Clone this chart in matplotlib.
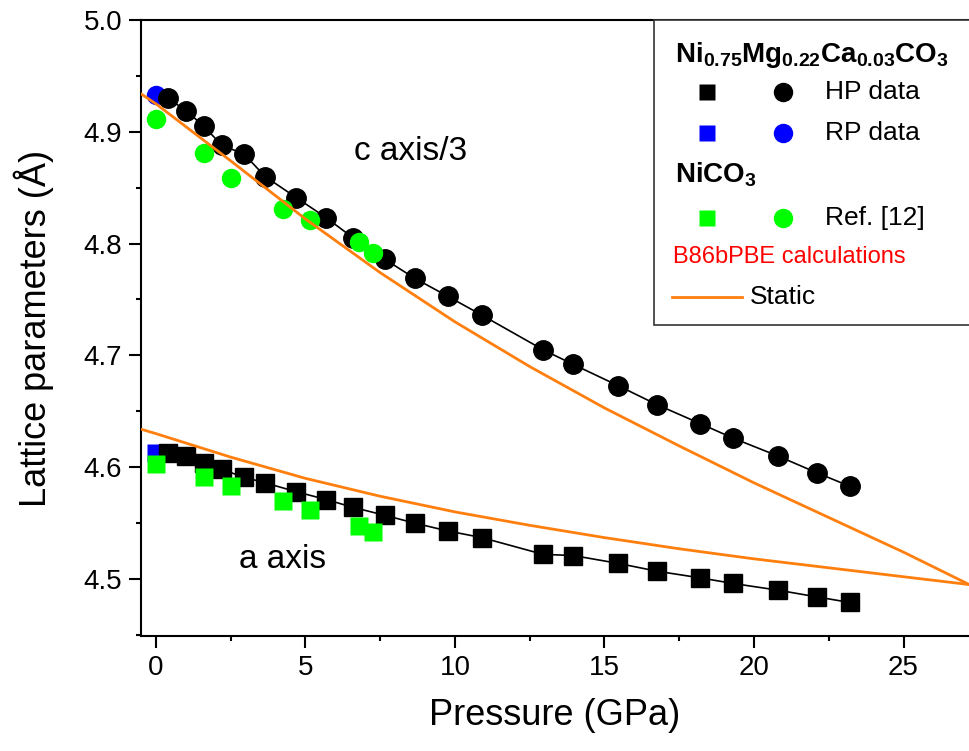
import matplotlib
matplotlib.use("Agg")
import matplotlib.pyplot as plt
from matplotlib.patches import Rectangle

plt.rcParams.update({
    'font.family': ['Liberation Sans', 'DejaVu Sans'],
    'mathtext.fontset': 'custom',
    'mathtext.rm': 'Liberation Sans',
    'mathtext.bf': 'Liberation Sans:bold',
    'axes.linewidth': 1.5,
})

# HP data, Ni0.75Mg0.22Ca0.03CO3 (pressure in GPa, lattice in Angstrom)
p_hp = [0.4, 1.0, 1.6, 2.2, 2.95, 3.65, 4.7, 5.7, 6.6, 7.65, 8.65, 9.75, 10.9,
        12.95, 13.95, 15.45, 16.75, 18.2, 19.3, 20.8, 22.1, 23.2]
a_hp = [4.613, 4.610, 4.604, 4.598, 4.591, 4.586, 4.578, 4.571, 4.564, 4.557,
        4.550, 4.543, 4.537, 4.522, 4.521, 4.514, 4.507, 4.501, 4.496, 4.490,
        4.484, 4.479]
c_hp = [4.930, 4.919, 4.905, 4.888, 4.880, 4.860, 4.841, 4.823, 4.805, 4.786,
        4.769, 4.753, 4.736, 4.705, 4.692, 4.673, 4.656, 4.639, 4.626, 4.610,
        4.595, 4.583]

# RP data
p_rp = [0.0]
a_rp = [4.613]
c_rp = [4.933]

# NiCO3, Ref. [12]
p_ref = [0.0, 1.6, 2.5, 4.25, 5.15, 6.8, 7.25]
a_ref = [4.603, 4.591, 4.583, 4.570, 4.562, 4.547, 4.542]
c_ref = [4.911, 4.881, 4.859, 4.831, 4.821, 4.801, 4.792]

# B86bPBE static calculations
p_calc = [-0.5, 0.0, 2.5, 5.0, 7.5, 10.0, 12.5, 15.0, 17.5, 20.0, 22.5, 25.0, 27.2]
a_calc = [4.634, 4.630, 4.609, 4.590, 4.574, 4.560, 4.548, 4.537, 4.527, 4.518,
          4.510, 4.502, 4.495]
c_calc = [4.934, 4.925, 4.874, 4.822, 4.774, 4.730, 4.690, 4.653, 4.619, 4.586,
          4.555, 4.524, 4.495]

orange = '#ff7f0e'
green = '#00ff00'
blue = '#0000ff'

fig = plt.figure(figsize=(9.69, 7.51), dpi=100)
ax = fig.add_axes([141 / 969, 1 - 636 / 751, 828 / 969, 616 / 751])

ax.plot(p_rp, a_rp, 's', color=blue, ms=13, mec='none', zorder=2)
ax.plot(p_rp, c_rp, 'o', color=blue, ms=14, mec='none', zorder=2)
ax.plot(p_hp, a_hp, 'k-', lw=1.2, marker='s', ms=13, zorder=3)
ax.plot(p_hp, c_hp, 'k-', lw=1.2, marker='o', ms=14, zorder=3)
ax.plot(p_ref, a_ref, 's', color=green, ms=13, mec='none', zorder=4)
ax.plot(p_ref, c_ref, 'o', color=green, ms=14, mec='none', zorder=4)
ax.plot(p_calc, a_calc, '-', color=orange, lw=2, zorder=5)
ax.plot(p_calc, c_calc, '-', color=orange, lw=2, zorder=5)

ax.set_xlim(-0.5, 27.19)
ax.set_ylim(4.449, 5.0)
ax.set_xticks([0, 5, 10, 15, 20, 25])
ax.set_xticks([2.5, 7.5, 12.5, 17.5, 22.5], minor=True)
ax.set_yticks([4.5, 4.6, 4.7, 4.8, 4.9, 5.0])
ax.set_yticklabels(['4.5', '4.6', '4.7', '4.8', '4.9', '5.0'])
ax.set_yticks([4.45, 4.55, 4.65, 4.75, 4.85, 4.95], minor=True)
ax.tick_params(which='major', length=8.5, width=1.5, labelsize=20, pad=5)
ax.tick_params(which='minor', length=3.6, width=1.5)
ax.spines['right'].set_visible(False)

ax.set_xlabel('Pressure (GPa)', fontsize=26)
ax.set_ylabel('Lattice parameters (Å)', fontsize=26)
ax.xaxis.set_label_coords(0.5, -0.1)
ax.yaxis.set_label_coords(-0.105, 0.5)

ax.text(8.5, 4.882, 'c axis/3', fontsize=24, ha='center', va='center')
ax.text(4.25, 4.517, 'a axis', fontsize=24, ha='center', va='center')

# legend drawn by hand (box runs off the right edge like the original)
tr = ax.transAxes
ax.add_patch(Rectangle((0.6196, 0.5049), 0.45, 1 - 0.5049, transform=tr,
                       facecolor='white', edgecolor='#333333', lw=1.2,
                       clip_on=False, zorder=6))
ax.text(0.645, 0.932, r'$\mathbf{Ni_{0.75}Mg_{0.22}Ca_{0.03}CO_3}$', transform=tr,
        fontsize=20, va='baseline', zorder=7)
ax.text(0.645, 0.737, r'$\mathbf{NiCO_3}$', transform=tr,
        fontsize=20, va='baseline', zorder=7)
rows = [(0.883, 'k', 'HP data'), (0.8166, blue, 'RP data'), (0.6786, green, 'Ref. [12]')]
for y, col, lab in rows:
    ax.plot([0.6836], [y], 's', color=col, ms=12, mec='none', transform=tr,
            clip_on=False, zorder=7)
    ax.plot([0.775], [y], 'o', color=col, ms=14, mec='none', transform=tr,
            clip_on=False, zorder=7)
    ax.text(0.826, y, lab, transform=tr, fontsize=19, va='center', zorder=7)
ax.text(0.643, 0.6153, 'B86bPBE calculations', transform=tr, fontsize=17,
        color='red', va='center', zorder=7)
ax.plot([0.641, 0.726], [0.5503, 0.5503], '-', color=orange, lw=2,
        transform=tr, clip_on=False, zorder=7)
ax.text(0.7355, 0.5503, 'Static', transform=tr, fontsize=19, va='center', zorder=7)

fig.savefig('out.png', dpi=100)
